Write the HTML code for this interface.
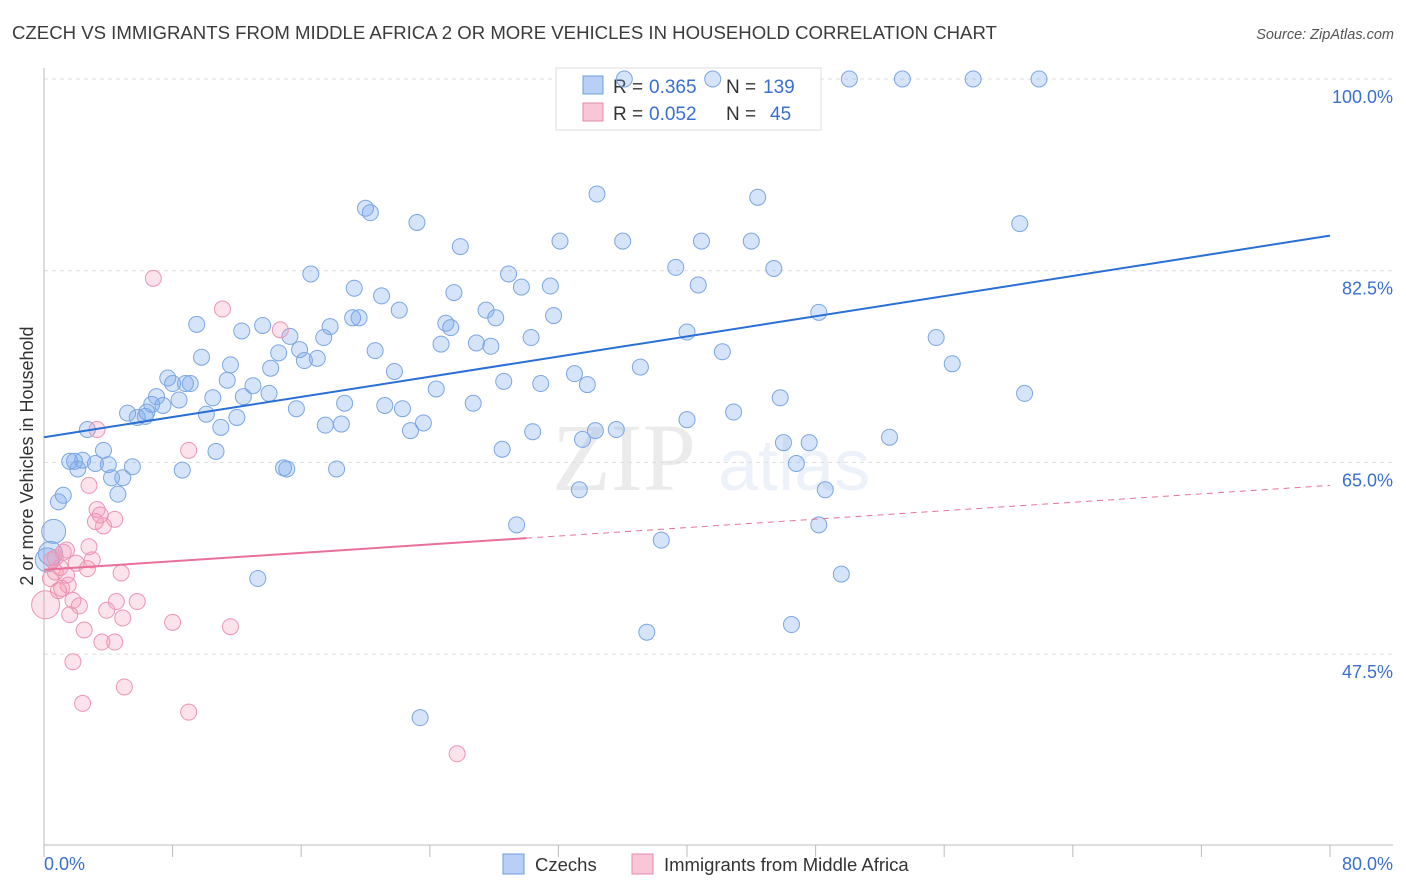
<!DOCTYPE html>
<html><head><meta charset="utf-8"><style>
body{margin:0;background:#fff;font-family:"Liberation Sans",sans-serif;}
svg{display:block}
</style></head><body>
<svg id="chart" width="1406" height="892">
<text x="12" y="39" font-size="18.6" fill="#3b3b3b">CZECH VS IMMIGRANTS FROM MIDDLE AFRICA 2 OR MORE VEHICLES IN HOUSEHOLD CORRELATION CHART</text>
<text x="1394" y="39" font-size="14.5" fill="#555" font-style="italic" text-anchor="end">Source: ZipAtlas.com</text>
<g opacity="0.09">
<text x="552" y="490" font-size="96" font-family="Liberation Serif,serif" fill="#333">ZIP</text>
<text x="718" y="490" font-size="72" fill="#3a6fd0">atlas</text>
</g>
<g id="grid"></g>
<g id="axes"></g>
<g>
<rect x="556" y="68" width="265" height="62" fill="#fff" stroke="#ddd"/>
<rect x="583" y="76" width="20" height="18" fill="#b8d0f5" stroke="#6d9de0"/>
<rect x="583" y="103" width="20" height="18" fill="#f8c6d6" stroke="#e889a8"/>
<text x="613" y="93" font-size="19" fill="#333">R =</text>
<text x="649" y="93" font-size="19" fill="#3a6fd0">0.365</text>
<text x="726" y="93" font-size="19" fill="#333">N =</text>
<text x="763" y="93" font-size="19" fill="#3a6fd0">139</text>
<text x="613" y="120" font-size="19" fill="#333">R =</text>
<text x="649" y="120" font-size="19" fill="#3a6fd0">0.052</text>
<text x="726" y="120" font-size="19" fill="#333">N =</text>
<text x="770" y="120" font-size="19" fill="#3a6fd0">45</text>
</g>
<g id="marks"></g>
<text x="33" y="456" font-size="18" fill="#333" text-anchor="middle" transform="rotate(-90 33 456)">2 or more Vehicles in Household</text>
<g>
<rect x="503" y="854" width="21" height="20" fill="#b8d0f5" stroke="#6d9de0"/>
<text x="535" y="871" font-size="18.5" fill="#333">Czechs</text>
<rect x="632" y="854" width="21" height="20" fill="#f8c6d6" stroke="#e889a8"/>
<text x="664" y="871" font-size="18.5" fill="#333">Immigrants from Middle Africa</text>
</g>
</svg>
<script>
const xTicks=[0,8,16,24,32,40,48,56,64,72,80];
const yTicks=[47.5,65,82.5,100];
const yTickLabels=["47.5%","65.0%","82.5%","100.0%"];
const blueX=[36.1,41.6,50.1,53.4,57.8,61.9,34.4,44.4,20.0,20.3,23.2,60.7,25.9,32.1,36.0,40.9,44.0,39.3,45.4,16.6,28.9,40.7,19.3,29.7,31.5,25.5,21.0,22.1,27.5,9.5,13.6,19.2,19.6,28.1,31.7,48.2,12.3,15.3,17.8,17.4,25.0,25.3,40.0,30.3,55.5,24.7,26.9,27.8,9.8,11.6,14.6,15.9,16.2,17.0,20.6,42.2,14.1,21.8,37.1,56.5,7.7,8.0,8.8,9.1,11.4,13.0,28.6,30.9,33.0,33.8,24.4,61.0,7.0,8.4,10.5,12.4,14.0,45.8,6.7,7.4,6.4,5.2,5.8,6.3,10.1,15.7,18.7,21.2,22.3,26.7,42.9,12.0,40.0,17.5,18.5,23.6,11.0,22.8,30.4,34.3,35.6,2.7,33.5,52.6,46.0,47.6,28.5,3.7,10.7,1.6,2.4,1.9,3.2,4.0,2.1,5.5,8.6,14.9,15.1,18.2,46.8,4.2,4.9,4.6,1.2,0.9,33.3,48.6,29.4,48.2,0.6,38.4,0.4,49.6,13.3,37.5,46.5,23.4,0.2];
const blueY=[100,100,100,100,100,100,89.5,89.2,88.2,87.8,86.9,86.8,84.7,85.2,85.2,85.2,85.2,82.8,82.7,82.2,82.2,81.2,80.9,81.0,81.1,80.5,80.2,78.9,78.9,77.6,77.5,78.2,78.2,78.2,78.4,78.7,77.0,76.5,77.4,76.4,77.7,77.3,76.9,76.4,76.4,75.8,75.9,75.6,74.6,73.9,75.0,75.3,74.3,74.5,75.2,75.1,73.6,73.3,73.7,74.0,72.7,72.2,72.2,72.2,72.5,72.0,72.4,72.2,73.1,72.1,71.7,71.3,71.0,70.7,70.9,71.0,71.3,70.9,70.3,70.2,69.6,69.5,69.1,69.2,69.4,69.9,70.4,70.2,69.9,70.4,69.6,69.1,68.9,68.4,68.5,68.6,68.2,67.9,67.8,67.9,68.0,68.0,67.1,67.3,66.8,66.8,66.2,66.1,66.0,65.1,65.2,65.1,64.9,64.8,64.4,64.6,64.3,64.5,64.4,64.4,64.9,63.6,63.6,62.1,62.0,61.4,62.5,62.5,59.3,59.3,58.7,57.9,56.7,54.8,54.4,49.5,50.2,41.7,56.1];
const pinkX=[6.8,11.1,14.7,3.3,9.0,2.8,3.3,3.2,3.7,4.4,2.8,1.4,0.7,2.0,1.0,2.7,4.8,0.4,1.5,1.1,1.8,5.8,4.5,2.2,0.1,3.9,1.6,4.9,8.0,11.6,2.5,3.6,4.4,1.8,5.0,2.4,9.0,25.7,0.5,0.7,1.2,3.5,3.0,0.9,1.4];
const pinkY=[81.8,79.0,77.1,68.0,66.1,62.9,60.7,59.6,59.2,59.8,57.3,57.0,56.3,55.8,55.4,55.3,54.9,54.4,53.8,53.5,52.4,52.3,52.3,51.9,52.0,51.5,51.1,50.8,50.4,50.0,49.7,48.6,48.6,46.8,44.5,43.0,42.2,38.4,56.1,55.0,56.8,60.2,56.1,53.3,54.7];
const blueTrend=[67.3,85.7];
const pinkTrend=[55.2,62.9];
const NS="http://www.w3.org/2000/svg";
const X=v=>44+v*1286/80;
const Y=v=>79+(100-v)*191.7/17.5;
function mk(tag,parent,attrs){const e=document.createElementNS(NS,tag);for(const k in attrs)e.setAttribute(k,attrs[k]);document.getElementById(parent).appendChild(e);return e;}
yTicks.forEach((t,i)=>{
 const g=mk('line','grid',{x1:44,x2:1393,y1:Y(t),y2:Y(t),stroke:'#ddd','stroke-dasharray':'4,4'});
 
 
 const l=mk('text','axes',{x:1393,y:Y(t)+24,'text-anchor':'end','font-size':18,fill:'#3a6fd0'});
 l.textContent=yTickLabels[i];
 
 
});
mk('line','axes',{x1:44,x2:44,y1:68,y2:845,stroke:'#bbb'});
mk('line','axes',{x1:44,x2:1393,y1:845,y2:845,stroke:'#bbb'});
xTicks.forEach(t=>{
 const k=mk('line','axes',{x1:X(t),x2:X(t),y1:845,y2:857,stroke:'#bbb'});
 
 
});
const xl0=mk('text','axes',{x:44,y:870,'font-size':18,fill:'#3a6fd0'});xl0.textContent=xTicks[0].toFixed(1)+'%';


const xl1=mk('text','axes',{x:1393,y:870,'font-size':18,fill:'#3a6fd0','text-anchor':'end'});xl1.textContent=xTicks[xTicks.length-1].toFixed(1)+'%';


blueX.forEach((x,i)=>{
 const big=(x<1&&blueY[i]>56&&blueY[i]<60);
 const c=mk('circle','marks',{cx:X(x),cy:Y(blueY[i]),r:big?12:8,fill:'rgba(120,165,235,0.3)',stroke:'#7ba6e3','stroke-width':1});
 
 
});
pinkX.forEach((x,i)=>{
 const big=(x<0.3);
 const c=mk('circle','marks',{cx:X(x),cy:Y(pinkY[i]),r:big?14:8,fill:'rgba(244,150,180,0.28)',stroke:'#ec95b2','stroke-width':1});
 
 
});
const bt=mk('line','marks',{x1:X(0),y1:Y(blueTrend[0]),x2:X(80),y2:Y(blueTrend[1]),stroke:'#2a6fd6','stroke-width':2});


const py=x=>pinkTrend[0]+(pinkTrend[1]-pinkTrend[0])*x/80;
const pt=mk('line','marks',{x1:X(0),y1:Y(py(0)),x2:X(30),y2:Y(py(30)),stroke:'#e8709a','stroke-width':2});


const pd=mk('line','marks',{x1:X(30),y1:Y(py(30)),x2:X(80),y2:Y(py(80)),stroke:'#e8709a','stroke-width':1,'stroke-dasharray':'6,5'});


</script>
</body></html>
